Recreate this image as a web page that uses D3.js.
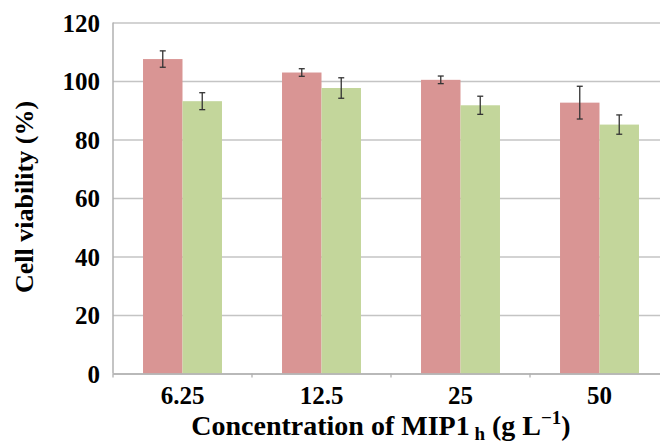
<!DOCTYPE html>
<html>
<head>
<meta charset="utf-8">
<script src="https://cdn.jsdelivr.net/npm/d3@7/dist/d3.min.js"></script>
<style>
  body { margin: 0; background: #fff; }
  svg { display: block; }
</style>
</head>
<body>
<div id="chart"></div>
<script>
// data
const categories = ['6.25', '12.5', '25', '50'];
const seriesNames = ['a', 'b'];
const seriesA = [107.5, 102.9, 100.4, 92.6];
const errA = [2.8, 1.3, 1.3, 5.6];
const seriesB = [93.1, 97.6, 91.7, 85.1];
const errB = [2.9, 3.5, 3.1, 3.3];
const yTicks = [0, 20, 40, 60, 80, 100, 120];

const colors = ['#d99594', '#c3d69b'];
const serif = '"Liberation Serif", "Times New Roman", serif';

const width = 660;
const height = 444;
const margin = {top: 22.5, left: 113, bottom: 70};
const plotW = 556;
const plotH = height - margin.top - margin.bottom - 0.5;

const rows = categories.map((c, i) => ({
    cat: c,
    vals: [
        {key: 'a', v: seriesA[i], e: errA[i]},
        {key: 'b', v: seriesB[i], e: errB[i]}
    ]
}));

const svg = d3.select('#chart')
  .append('svg')
    .attr('width', width)
    .attr('height', height);

const g = svg.append('g')
    .attr('transform', `translate(${margin.left},${margin.top})`);

const x0 = d3.scaleBand()
    .domain(categories)
    .range([0, plotW])
    .paddingInner(0.432)
    .paddingOuter(0.216);

const x1 = d3.scaleBand()
    .domain(seriesNames)
    .range([0, x0.bandwidth()]);

const y = d3.scaleLinear()
    .domain([0, 120])
    .range([plotH, 0]);

// gridlines + y labels
const yAxis = g.append('g')
    .call(d3.axisLeft(y).tickValues(yTicks).tickSize(-plotW).tickPadding(13));
yAxis.select('.domain').remove();
yAxis.selectAll('.tick line')
    .attr('stroke', '#c4c4c4')
    .attr('stroke-width', 1.5);
yAxis.selectAll('.tick text')
    .attr('dy', '0.35em')
    .style('font-family', serif)
    .style('font-weight', 'bold')
    .style('font-size', '25px')
    .style('fill', '#000');

// left axis line
g.append('line')
    .attr('x1', 0).attr('x2', 0)
    .attr('y1', 0).attr('y2', plotH)
    .attr('stroke', '#b0b0b0')
    .attr('stroke-width', 1.5);

// bars
const groups = g.selectAll('.grp')
    .data(rows)
  .enter().append('g')
    .attr('class', 'grp')
    .attr('transform', d => `translate(${x0(d.cat)},0)`);

groups.selectAll('rect')
    .data(d => d.vals)
  .enter().append('rect')
    .attr('x', d => x1(d.key))
    .attr('y', d => y(d.v))
    .attr('width', x1.bandwidth())
    .attr('height', d => plotH - y(d.v))
    .attr('fill', (d, i) => colors[i]);

// error bars
const eb = groups.selectAll('.err')
    .data(d => d.vals)
  .enter().append('g')
    .attr('class', 'err')
    .attr('stroke', '#333')
    .attr('stroke-width', 1.3);

eb.append('line')
    .attr('x1', d => x1(d.key) + x1.bandwidth() / 2)
    .attr('x2', d => x1(d.key) + x1.bandwidth() / 2)
    .attr('y1', d => y(d.v + d.e))
    .attr('y2', d => y(d.v - d.e));
[1, -1].forEach(s => {
    eb.append('line')
        .attr('x1', d => x1(d.key) + x1.bandwidth() / 2 - 3)
        .attr('x2', d => x1(d.key) + x1.bandwidth() / 2 + 3)
        .attr('y1', d => y(d.v + s * d.e))
        .attr('y2', d => y(d.v + s * d.e));
});

// x axis
const xAxis = g.append('g')
    .attr('transform', `translate(0,${plotH})`)
    .call(d3.axisBottom(x0).tickSize(0).tickPadding(13));
xAxis.select('.domain')
    .attr('stroke', '#b0b0b0')
    .attr('stroke-width', 1.5);
xAxis.selectAll('.tick text')
    .style('font-family', serif)
    .style('font-weight', 'bold')
    .style('font-size', '25px')
    .style('fill', '#000');

// category boundary ticks
const step = x0.step();
g.append('g').selectAll('line')
    .data(d3.range(categories.length + 1))
  .enter().append('line')
    .attr('x1', i => i * step).attr('x2', i => i * step)
    .attr('y1', plotH).attr('y2', plotH + 4)
    .attr('stroke', '#b0b0b0')
    .attr('stroke-width', 1.3);

// axis titles
const xt = svg.append('text')
    .attr('x', 381)
    .attr('y', 435)
    .attr('text-anchor', 'middle')
    .style('font-family', serif)
    .style('font-weight', 'bold')
    .style('font-size', '28px');
xt.append('tspan').text('Concentration of MIP1');
xt.append('tspan').attr('dy', 5).style('font-size', '19px').text(' h');
xt.append('tspan').attr('dy', -5).text(' (g L');
xt.append('tspan').attr('dy', -11).style('font-size', '19px').text('\u22121');
xt.append('tspan').attr('dy', 11).text(')');

svg.append('text')
    .attr('transform', 'translate(33,197) rotate(-90)')
    .attr('text-anchor', 'middle')
    .style('font-family', serif)
    .style('font-weight', 'bold')
    .style('font-size', '26px')
    .text('Cell viability (%)');
</script>
</body>
</html>
